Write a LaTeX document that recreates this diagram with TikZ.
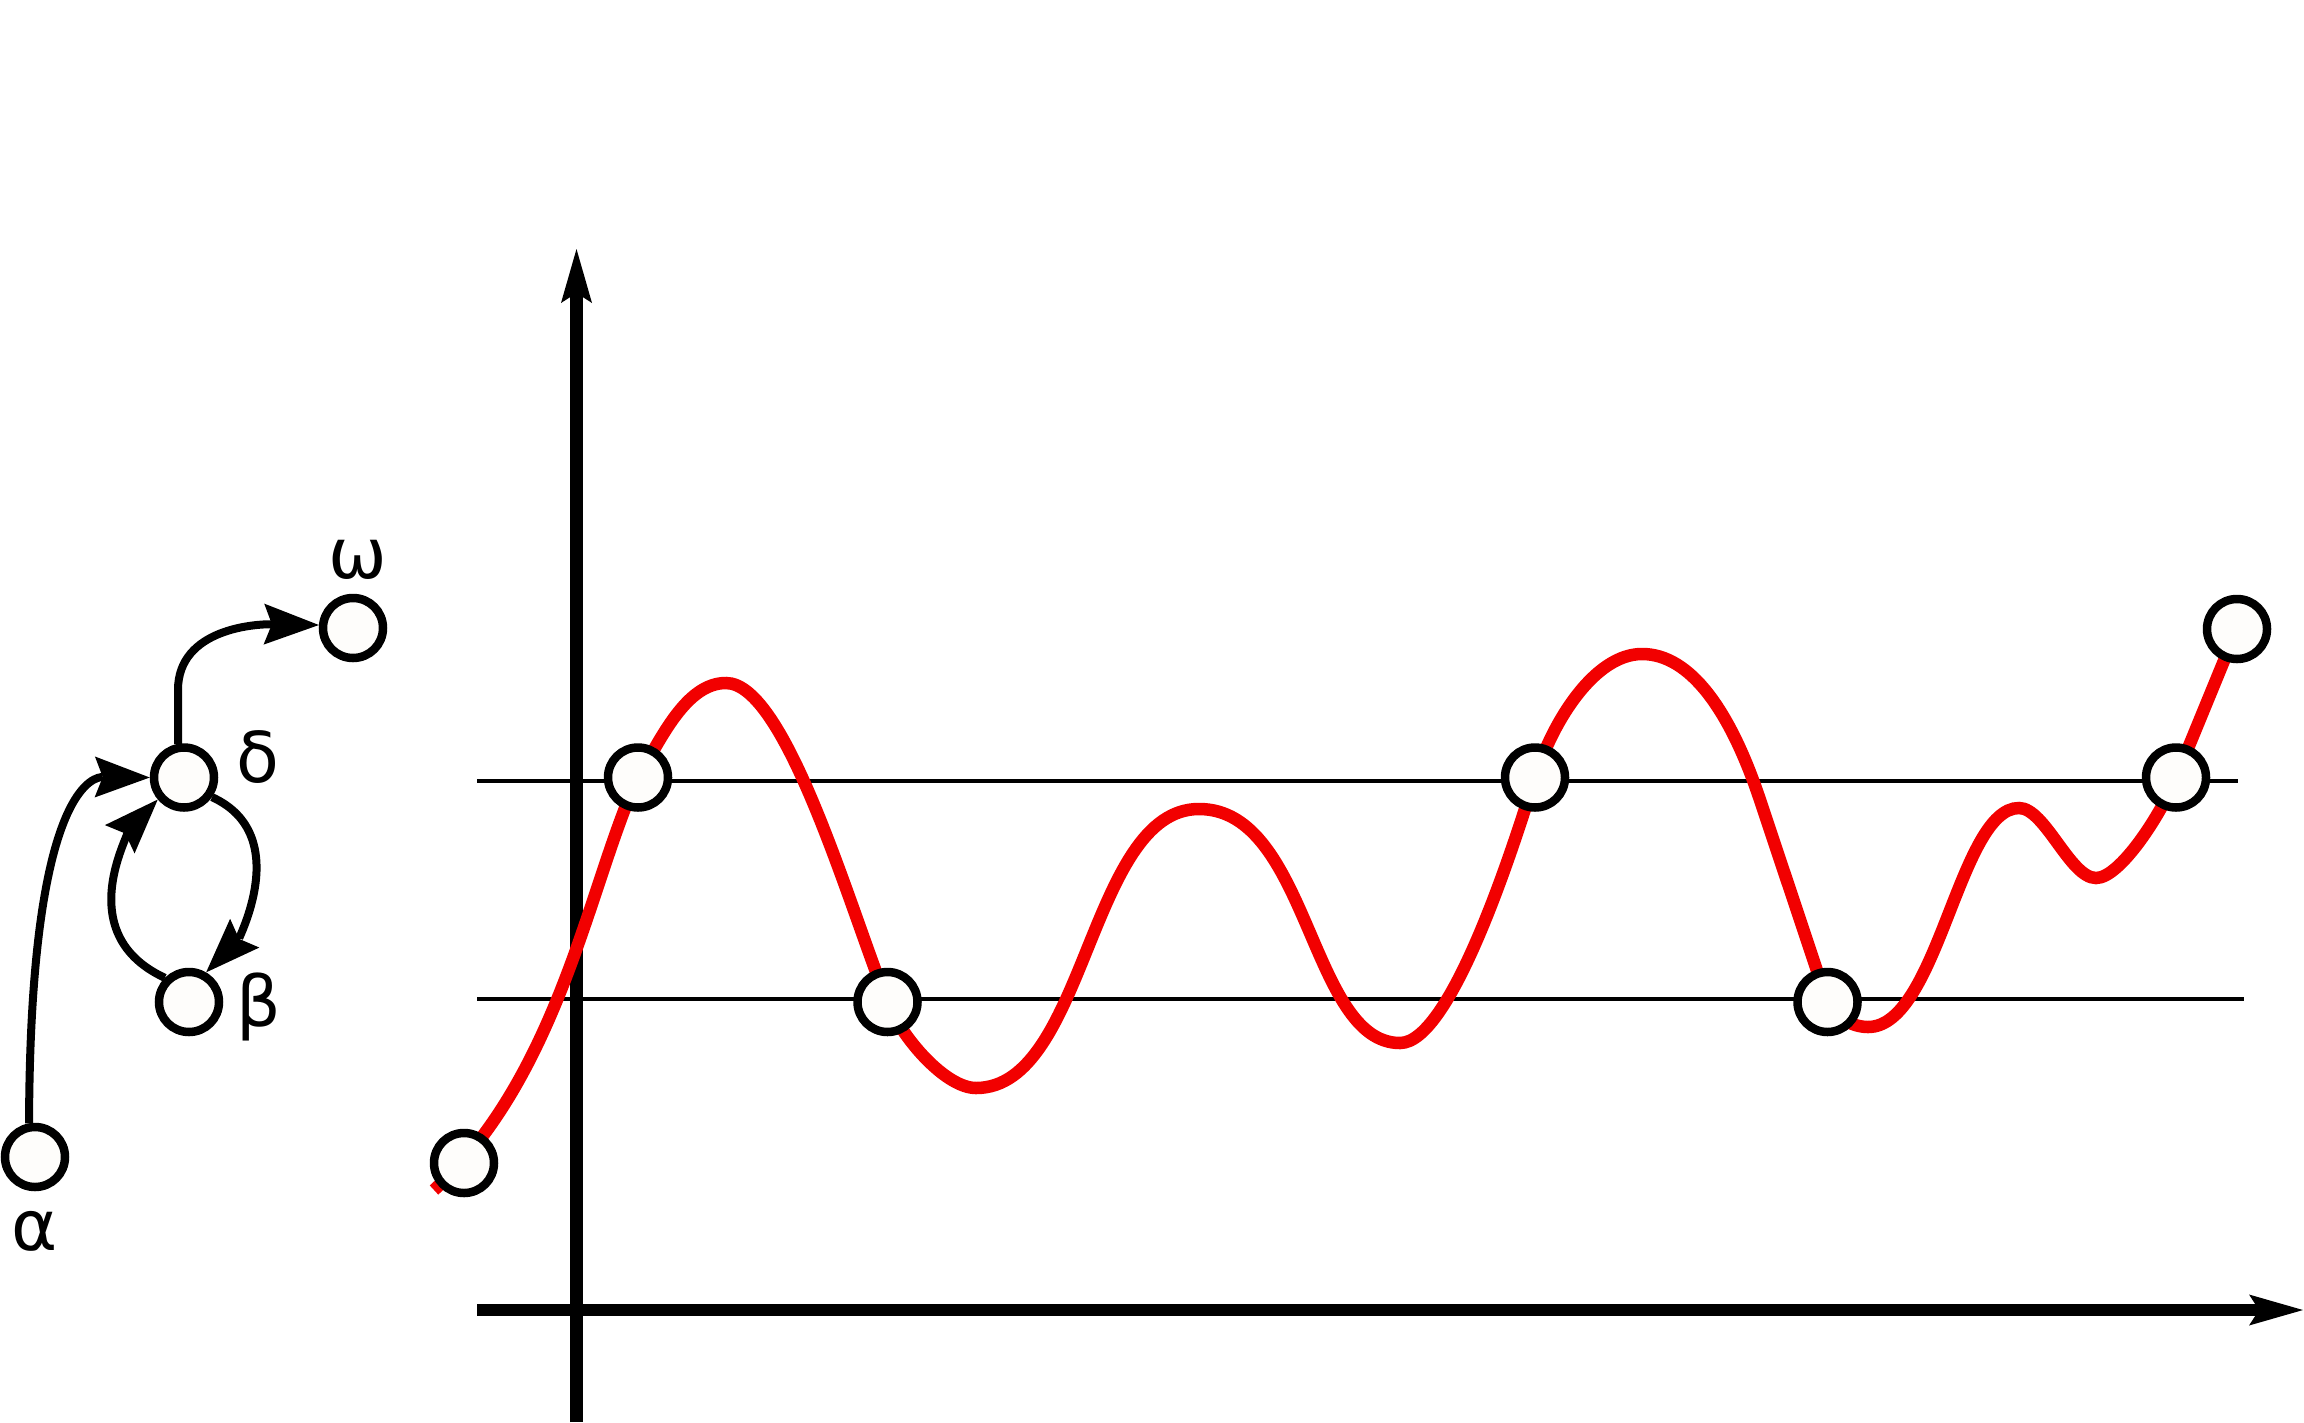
\documentclass[tikz,border=0pt]{standalone}
\usepackage{fontspec}
\setmainfont{DejaVu Sans}
\usetikzlibrary{arrows.meta}
\definecolor{curvered}{RGB}{242,0,0}
\definecolor{dotfill}{RGB}{254,253,251}
\begin{document}
\begin{tikzpicture}[x=1pt,y=-1pt,
  dot/.style={circle, draw=black, line width=8.5pt, fill=dotfill, minimum size=60pt, inner sep=0pt},
  conn/.style={line width=8pt, -{Stealth[length=55pt,width=41pt,inset=8pt,line width=0pt]}},
  axisline/.style={line width=12.5pt, -{Stealth[length=54pt,width=31pt,inset=10pt,line width=0pt]}},
  levelline/.style={line width=4pt},
  lbl/.style={font=\fontsize{70}{84}\selectfont, anchor=base, inner sep=0pt},
  redcurve/.style={curvered, line width=12.5pt}
]
\useasboundingbox (0,0) rectangle (2304,1422);

% axes
\coordinate (ybot) at (576.5,1422);
\coordinate (ytop) at (576.5,249);
\coordinate (xl) at (477,1310);
\coordinate (xr) at (2303,1310);
\draw[axisline] (ybot) -- (ytop);
\draw[axisline] (xl) -- (xr);

% level lines
\coordinate (u1) at (477,781);
\coordinate (u2) at (2238,781);
\coordinate (l1) at (477,999);
\coordinate (l2) at (2244,999);
\draw[levelline] (u1) -- (u2);
\draw[levelline] (l1) -- (l2);

% red curve
\draw[redcurve] (434,1190)
  .. controls (560,1075) and (590,880) .. (638,777.5)
  .. controls (661,738.6) and (686,683) .. (726,683)
  .. controls (786,683) and (850,909) .. (887.5,1002)
  .. controls (902.4,1039) and (946,1088) .. (976,1088)
  .. controls (1086,1088) and (1089,809) .. (1199,809)
  .. controls (1309,809) and (1310,1043) .. (1400,1043)
  .. controls (1452,1043) and (1516,838) .. (1535,777.5)
  .. controls (1553,720.3) and (1595,654) .. (1642,654)
  .. controls (1690,654) and (1730,710) .. (1760,800)
  -- (1827.5,1002)
  .. controls (1832,1016) and (1852,1027) .. (1868,1027)
  .. controls (1938,1027) and (1959,808) .. (2019,808)
  .. controls (2045,808) and (2070,878) .. (2096,878)
  .. controls (2120,878) and (2161,814.5) .. (2176,777.5)
  -- (2237,629);

% circles on the curve
\node[dot] (c1) at (464,1163) {};
\node[dot] (c2) at (638,777.5) {};
\node[dot] (c3) at (887.5,1002) {};
\node[dot] (c4) at (1535,777.5) {};
\node[dot] (c5) at (1827.5,1002) {};
\node[dot] (c6) at (2176,777.5) {};
\node[dot] (c7) at (2237,629) {};

% left graph
\node[dot] (a) at (35,1157) {};
\node[dot] (d) at (184,777.5) {};
\node[dot] (b) at (189,1002) {};
\node[dot] (w) at (353,628) {};

\draw[conn] (a.100) .. controls (30,780) and (97,777) .. (d.west);
\draw[conn] (d.100) -- (178,690) .. controls (178,628) and (257,624) .. (w.175);
\draw[conn] (d.-35) .. controls (295,835) and (236,942) .. (b.60);
\draw[conn] (b.135) .. controls (62,930) and (142,816) .. (d.220);

\node[lbl] (la) at (35,1250) {α};
\node[lbl] (ld) at (257.5,782) {δ};
\node[lbl] (lb) at (258.5,1026) {β};
\node[lbl] (lw) at (357.5,578) {ω};
\end{tikzpicture}
\end{document}
